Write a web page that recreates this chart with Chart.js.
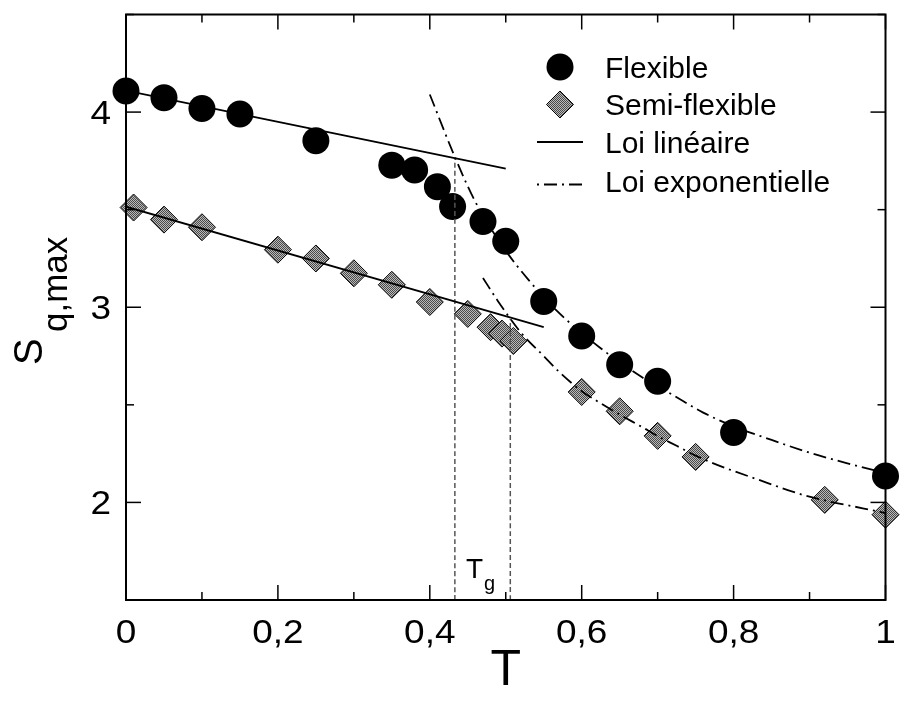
<!DOCTYPE html>
<html>
<head>
<meta charset="utf-8">
<script src="https://cdn.jsdelivr.net/npm/chart.js@4"></script>
<style>
  html, body { margin: 0; padding: 0; background: #fff; }
  canvas { display: block; }
</style>
</head>
<body>
<canvas id="c" width="900" height="702"></canvas>
<script>
// Flexible chains: peak height of the structure factor vs temperature
const flexT = [0, 0.05, 0.1, 0.15, 0.25, 0.35, 0.38, 0.41, 0.43, 0.47, 0.5, 0.55, 0.6, 0.65, 0.7, 0.8, 1.0];
const flexS = [4.108, 4.074, 4.018, 3.99, 3.853, 3.728, 3.703, 3.618, 3.516, 3.439, 3.338, 3.03, 2.853, 2.706, 2.621, 2.358, 2.135];

// Semi-flexible chains
const semiT = [0.01, 0.05, 0.1, 0.2, 0.25, 0.3, 0.35, 0.4, 0.45, 0.48, 0.495, 0.51, 0.6, 0.65, 0.7, 0.75, 0.92, 1.0];
const semiS = [3.511, 3.449, 3.41, 3.295, 3.25, 3.174, 3.115, 3.027, 2.966, 2.898, 2.865, 2.827, 2.566, 2.467, 2.341, 2.233, 2.013, 1.937];

// Linear law (low temperature branch)
const linFlexT = [0, 0.5];
const linFlexS = [4.11, 3.71];
const linSemiT = [0, 0.55];
const linSemiS = [3.515, 2.898];

// Exponential law (high temperature branch)
const expFlexT = [0.40, 0.433, 0.46, 0.50, 0.53, 0.565, 0.625, 0.68, 0.72, 0.76, 0.80, 0.85, 0.90, 0.95, 1.00];
const expFlexS = [4.09, 3.77, 3.54, 3.29, 3.14, 2.99, 2.79, 2.64, 2.55, 2.46, 2.39, 2.32, 2.255, 2.20, 2.15];
const expSemiT = [0.47, 0.49, 0.52, 0.55, 0.57, 0.60, 0.62, 0.65, 0.68, 0.70, 0.725, 0.75, 0.78, 0.83, 0.89, 0.92, 0.97, 1.00];
const expSemiS = [3.15, 3.03, 2.87, 2.75, 2.67, 2.57, 2.52, 2.45, 2.385, 2.34, 2.29, 2.24, 2.19, 2.12, 2.04, 2.01, 1.97, 1.945];

// Glass transition markers (crossing of the two laws)
const tgT = [0.433, 0.506];
const tgTop = [3.76, 2.94];

// Axes
const xMajor = [0, 0.2, 0.4, 0.6, 0.8, 1];
const xTickLabels = ['0', '0,2', '0,4', '0,6', '0,8', '1'];
const xMinor = [0.1, 0.3, 0.5, 0.7, 0.9];
const yMajor = [2, 3, 4];
const yTickLabels = ['2', '3', '4'];
const yMinor = [1.5, 2.5, 3.5, 4.5];

const legendLabels = ['Flexible', 'Semi-flexible', 'Loi linéaire', 'Loi exponentielle'];

const FONT = '"Liberation Sans", Arial, Helvetica, sans-serif';

const canvas = document.getElementById('c');
const ctx0 = canvas.getContext('2d');

// fine gray dither used to fill the diamonds
function ditherPattern(ctx) {
  const p = document.createElement('canvas');
  p.width = 2; p.height = 2;
  const g = p.getContext('2d');
  g.fillStyle = '#bababa'; g.fillRect(0, 0, 2, 2);
  g.fillStyle = '#4a4a4a'; g.fillRect(0, 0, 1, 1); g.fillRect(1, 1, 1, 1);
  return ctx.createPattern(p, 'repeat');
}
const dither = ditherPattern(ctx0);

const pts = (xs, ys) => xs.map((v, i) => ({ x: v, y: ys[i] }));

function lineSet(xs, ys, dash, color, width) {
  return {
    data: pts(xs, ys),
    showLine: true,
    fill: false,
    borderColor: color || '#000',
    borderWidth: width || 1.8,
    borderDash: dash || [],
    pointRadius: 0,
    cubicInterpolationMode: 'monotone',
    order: 0
  };
}

const DASHDOT = [13, 5, 2, 5];

// text drawn slightly widened horizontally
function wideText(ctx, text, x, y, align, stretch) {
  ctx.save();
  ctx.translate(x, y);
  ctx.scale(stretch, 1);
  ctx.textAlign = align;
  ctx.fillText(text, 0, 0);
  ctx.restore();
}

const decor = {
  id: 'decor',
  afterDraw(chart) {
    const { ctx, chartArea: a, scales: { x, y } } = chart;
    ctx.save();

    // frame
    ctx.strokeStyle = '#000';
    ctx.lineWidth = 2;
    ctx.strokeRect(a.left, a.top, a.right - a.left, a.bottom - a.top);

    // inward ticks on all four sides
    ctx.lineWidth = 1.5;
    const seg = (x1, y1, x2, y2) => { ctx.beginPath(); ctx.moveTo(x1, y1); ctx.lineTo(x2, y2); ctx.stroke(); };
    const xt = (vals, len) => vals.forEach(v => {
      const px = x.getPixelForValue(v);
      seg(px, a.bottom, px, a.bottom - len);
      seg(px, a.top, px, a.top + len);
    });
    const yt = (vals, len) => vals.forEach(v => {
      const py = y.getPixelForValue(v);
      seg(a.left, py, a.left + len, py);
      seg(a.right, py, a.right - len, py);
    });
    xt(xMajor, 15); xt(xMinor, 8);
    yt(yMajor, 15); yt(yMinor, 8);

    // tick labels
    ctx.fillStyle = '#000';
    ctx.font = '33px ' + FONT;
    ctx.textBaseline = 'alphabetic';
    xMajor.forEach((v, i) => wideText(ctx, xTickLabels[i], x.getPixelForValue(v), a.bottom + 43, 'center', 1.12));
    yMajor.forEach((v, i) => wideText(ctx, yTickLabels[i], a.left - 15, y.getPixelForValue(v) + 12, 'right', 1.12));

    // x title
    ctx.textAlign = 'center';
    ctx.font = '50px ' + FONT;
    ctx.fillText('T', (a.left + a.right) / 2, a.bottom + 85);

    // y title S_{q,max}
    ctx.save();
    ctx.translate(42, 365);
    ctx.rotate(-Math.PI / 2);
    ctx.textAlign = 'left';
    ctx.font = '40px ' + FONT;
    ctx.fillText('S', 0, 0);
    ctx.font = '35px ' + FONT;
    ctx.fillText('q,max', 33, 25);
    ctx.restore();

    // T_g label between the two dashed lines
    ctx.textAlign = 'left';
    ctx.font = '28px ' + FONT;
    ctx.fillText('T', 466, 578);
    ctx.font = '20px ' + FONT;
    ctx.fillText('g', 484, 590);

    // legend
    const mx = 560, tx = 605;
    const rows = [67, 104.5, 142, 181.5];
    ctx.font = '30px ' + FONT;
    ctx.textAlign = 'left';
    legendLabels.forEach((t, i) => ctx.fillText(t, tx, rows[i] + 10.7));

    ctx.fillStyle = '#000';
    ctx.beginPath(); ctx.arc(mx, rows[0], 13.5, 0, Math.PI * 2); ctx.fill();

    ctx.beginPath();
    ctx.moveTo(mx, rows[1] - 13.5); ctx.lineTo(mx + 13.5, rows[1]);
    ctx.lineTo(mx, rows[1] + 13.5); ctx.lineTo(mx - 13.5, rows[1]); ctx.closePath();
    ctx.fillStyle = dither; ctx.fill();
    ctx.lineWidth = 1; ctx.strokeStyle = '#000'; ctx.stroke();

    ctx.lineWidth = 1.8;
    seg(537, rows[2], 583, rows[2]);
    ctx.setLineDash(DASHDOT);
    ctx.lineDashOffset = 18;
    seg(537, rows[3] + 3, 583, rows[3] + 3);
    ctx.setLineDash([]);

    ctx.restore();
  }
};

new Chart(canvas, {
  type: 'scatter',
  data: {
    datasets: [
      lineSet(linFlexT, linFlexS),
      lineSet(linSemiT, linSemiS),
      lineSet(expFlexT, expFlexS, DASHDOT),
      lineSet(expSemiT, expSemiS, DASHDOT),
      lineSet([tgT[0], tgT[0]], [1.5, tgTop[0]], [5, 3], '#555', 1.5),
      lineSet([tgT[1], tgT[1]], [1.5, tgTop[1]], [5, 3], '#555', 1.5),
      {
        label: legendLabels[0],
        data: pts(flexT, flexS),
        pointStyle: 'circle',
        pointRadius: 13.5,
        backgroundColor: '#000',
        borderColor: '#000',
        borderWidth: 0,
        clip: false,
        order: 2
      },
      {
        label: legendLabels[1],
        data: pts(semiT, semiS),
        pointStyle: 'rectRot',
        pointRadius: 13.5,
        backgroundColor: dither,
        borderColor: '#000',
        borderWidth: 1,
        clip: false,
        order: 1
      }
    ]
  },
  options: {
    responsive: false,
    devicePixelRatio: 1,
    animation: false,
    events: [],
    layout: { padding: { left: 126, right: 14, top: 6, bottom: 102 } },
    scales: {
      x: { type: 'linear', min: 0, max: 1, display: false },
      y: { type: 'linear', min: 1.5, max: 4.5, display: false }
    },
    plugins: {
      legend: { display: false },
      tooltip: { enabled: false }
    }
  },
  plugins: [decor]
});
</script>
</body>
</html>
